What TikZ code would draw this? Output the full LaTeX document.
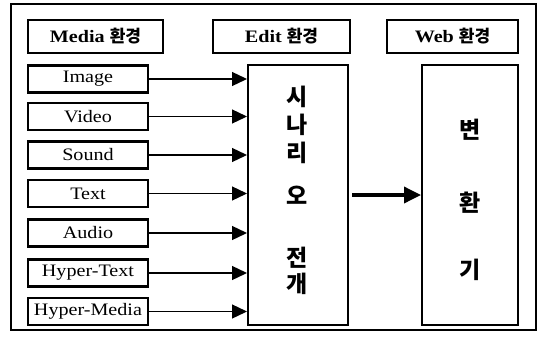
\documentclass[tikz,border=0pt]{standalone}
\usepackage{fontspec}
\setmainfont{Liberation Serif}[FakeStretch=1.15]
\newfontfamily\kr{Noto Sans CJK KR}
\usetikzlibrary{arrows.meta}

\tikzset{
  headbox/.style={draw, line width=2.2pt, minimum height=33pt,
    font=\bfseries\fontsize{17.5}{19}\selectfont},
  mediabox/.style={draw, line width=2.2pt, minimum width=120pt,
    minimum height=27pt, inner sep=1pt, font=\fontsize{17.5}{19}\selectfont},
  stagebox/.style={draw, line width=2pt, minimum height=260pt},
  feed/.style={-{Triangle[length=15pt,width=14pt]}, line width=1.3pt},
  pass/.style={-{Triangle[length=17pt,width=16pt]}, line width=3.5pt},
  glyph/.style={font=\kr\bfseries\fontsize{23}{25}\selectfont},
}
\newcommand{\hwan}{{\kr\fontsize{17}{19}\selectfont 환경}}

\begin{document}
\begin{tikzpicture}[x=1pt,y=-1pt]
  \useasboundingbox (0,0) rectangle (540,340);
  \draw[line width=1.5pt] (11,4) rectangle (536,330);

  % headers
  \node[headbox, minimum width=135pt] (hmedia) at (95.5,36.5) {Media \hwan};
  \node[headbox, minimum width=137pt] (hedit) at (281.5,36.5) {Edit \hwan};
  \node[headbox, minimum width=131pt] (hweb) at (452.5,36.5) {Web \hwan};

  % stages
  \node[stagebox, minimum width=100pt] (edit) at (298,195) {};
  \node[stagebox, minimum width=96pt] (web) at (470,195) {};

  % media sources
  \foreach \name/\txt/\y in {img/Image/79, vid/Video/116.5, snd/Sound/155,
      txt/Text/193.5, aud/Audio/233, htx/Hyper-Text/273, hmd/Hyper-Media/311.5}{
    \node[mediabox] (\name) at (88,\y) {\txt};
    \draw[feed] (\name.east) -- (\name.east -| edit.west);
  }

  \draw[pass] ([xshift=3pt]edit.east) -- (web.west);

  % vertical labels
  \foreach \ch/\y in {시/97, 나/125, 리/153, 오/195, 전/258, 개/284}
    \node[glyph] (e\y) at (297,\y) {\ch};
  \foreach \ch/\y in {변/130, 환/203, 기/270}
    \node[glyph] (w\y) at (470,\y) {\ch};
\end{tikzpicture}
\end{document}
